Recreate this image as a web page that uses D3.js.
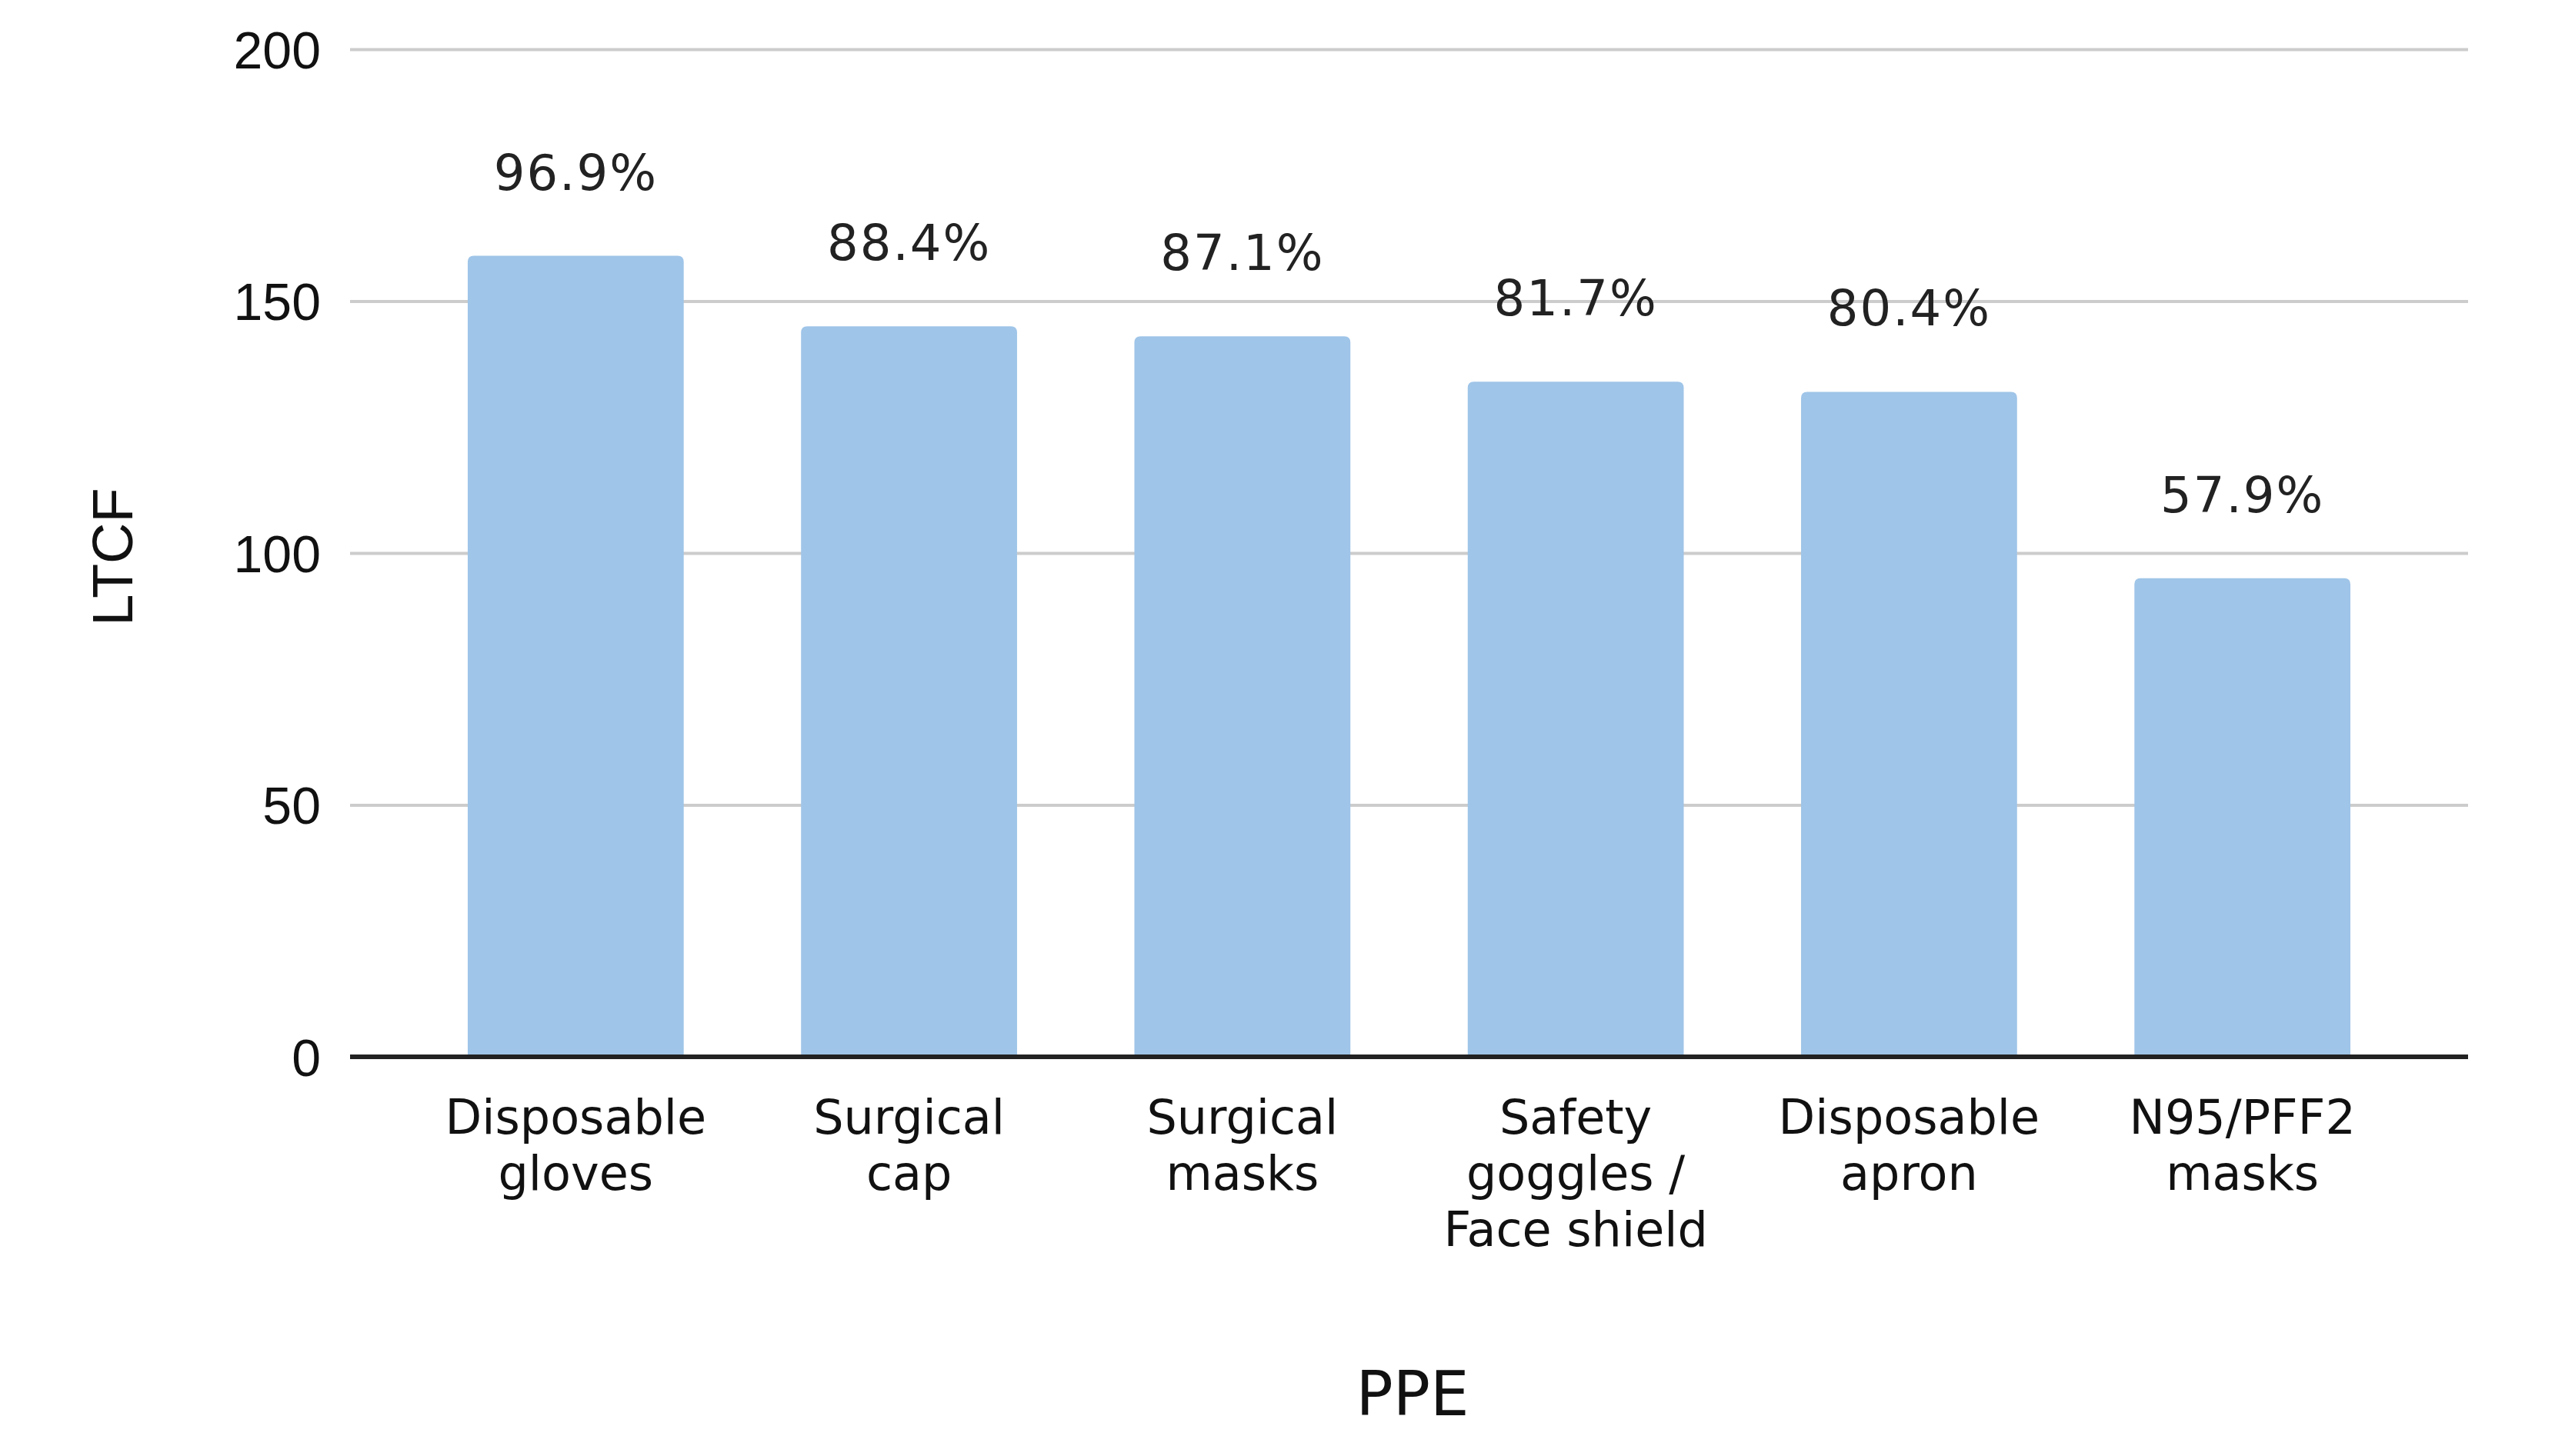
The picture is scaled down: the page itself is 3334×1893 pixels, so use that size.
<!doctype html>
<html>
  <head>
    <script src="https://cdnjs.cloudflare.com/ajax/libs/d3/7.8.5/d3.min.js"></script>
    <style>
      body { margin: 0; background: #fff; }
      .grid line { stroke: #cccccc; stroke-width: 4; }
      .grid text { font-family: "Liberation Sans", Arial, sans-serif; font-size: 68px; fill: #111; }
      .xaxis text { font-family: "DejaVu Sans", Verdana, sans-serif; font-size: 62px; fill: #111; }
      path.bar { fill: #9fc5e8; }
      text.pct { font-family: "DejaVu Sans", Verdana, sans-serif; font-size: 64px; fill: #222; letter-spacing: 2px; }
    </style>
  </head>
  <body>
    <svg width="3334" height="1893"></svg>
    <script>
      var categories = ["Disposable\ngloves", "Surgical\ncap", "Surgical\nmasks",
                        "Safety\ngoggles /\nFace shield", "Disposable\napron", "N95/PFF2\nmasks"];
      var counts = [159, 145, 143, 134, 132, 95];
      var percents = ["96.9%", "88.4%", "87.1%", "81.7%", "80.4%", "57.9%"];
      var yTicks = [0, 50, 100, 150, 200];

      var svg = d3.select("svg");
      var plotLeft = 455, plotRight = 3208, plotTop = 64, plotBottom = 1374;

      var x = d3.scaleBand()
        .domain(categories)
        .range([plotLeft, plotRight])
        .paddingInner(0.352)
        .paddingOuter(0.353);

      var y = d3.scaleLinear()
        .domain([0, 200])
        .range([plotBottom, plotTop]);

      // gridlines + y tick labels
      var gy = svg.append("g")
        .attr("class", "grid")
        .attr("transform", "translate(" + plotLeft + ",0)")
        .call(d3.axisLeft(y).tickValues(yTicks).tickSize(-(plotRight - plotLeft)).tickPadding(38));
      gy.select(".domain").remove();
      gy.selectAll("text").attr("dy", "0.36em");

      // bars with slightly rounded tops
      var r = 8;
      svg.selectAll("path.bar").data(counts)
        .enter()
        .append("path")
          .attr("class", "bar")
          .attr("d", (d, i) => {
            var x0 = x(categories[i]), w = x.bandwidth(), y0 = y(d), yb = y(0);
            return "M" + x0 + "," + yb + "V" + (y0 + r) + "Q" + x0 + "," + y0 + " " + (x0 + r) + "," + y0 +
              "H" + (x0 + w - r) + "Q" + (x0 + w) + "," + y0 + " " + (x0 + w) + "," + (y0 + r) + "V" + yb + "Z";
          });

      // percentage labels
      svg.selectAll("text.pct").data(counts)
        .enter()
        .append("text")
          .attr("class", "pct")
          .attr("text-anchor", "middle")
          .attr("x", (d, i) => x(categories[i]) + x.bandwidth() / 2)
          .attr("y", d => y(d) - 86)
          .text((d, i) => percents[i]);

      // zero axis line
      svg.append("line")
        .attr("x1", plotLeft).attr("x2", plotRight)
        .attr("y1", y(0)).attr("y2", y(0))
        .attr("stroke", "#222").attr("stroke-width", 6);

      // x axis category labels
      var gx = svg.append("g")
        .attr("class", "xaxis")
        .attr("transform", "translate(0," + plotBottom + ")")
        .call(d3.axisBottom(x).tickSize(0).tickPadding(0));
      gx.select(".domain").remove();
      gx.selectAll("text").each(function (d) {
        var t = d3.select(this).text(null).attr("y", 0).attr("dy", null);
        d.split("\n").forEach((line, k) => {
          t.append("tspan").attr("x", 0).attr("y", 100 + k * 73).text(line);
        });
      });

      // axis titles
      svg.append("text")
        .attr("transform", "translate(172,724) rotate(-90)")
        .attr("text-anchor", "middle")
        .style("font-family", "Liberation Sans, Arial, sans-serif")
        .style("font-size", "74px")
        .style("fill", "#111")
        .text("LTCF");

      svg.append("text")
        .attr("x", 1836).attr("y", 1840)
        .attr("text-anchor", "middle")
        .style("font-family", "DejaVu Sans, Verdana, sans-serif")
        .style("font-size", "80px")
        .style("fill", "#111")
        .text("PPE");
    </script>
  </body>
</html>
